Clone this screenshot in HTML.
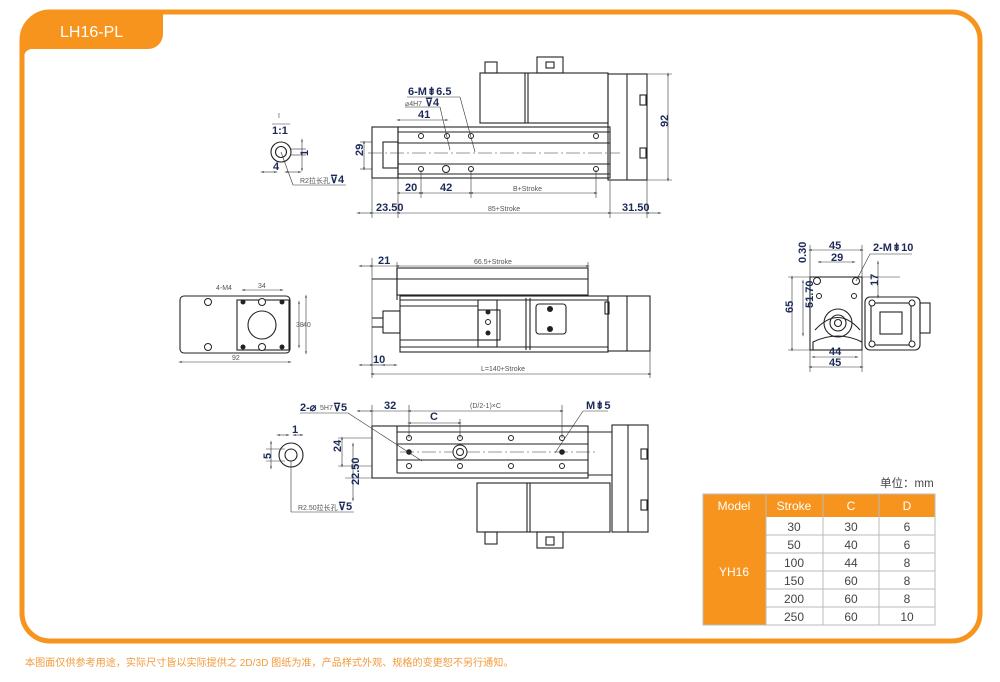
<!DOCTYPE html>
<html><head><meta charset="utf-8"><style>
html,body{margin:0;padding:0;background:#fff;}
body{width:1000px;height:682px;position:relative;overflow:hidden;font-family:"Liberation Sans","Noto Sans CJK SC",sans-serif;}
svg{position:absolute;left:0;top:0;}
.l{stroke:#222;stroke-width:1.1;fill:none;}
.t{stroke:#333;stroke-width:.6;fill:none;}
.d{stroke:#333;stroke-width:.6;fill:none;marker-start:url(#a);marker-end:url(#a);}
.n{font-family:"Liberation Sans",sans-serif;font-size:11px;fill:#1c2a5a;font-weight:bold;}
.s{font-family:"Liberation Sans",sans-serif;font-size:7px;fill:#555;}
.h{fill:#fff;stroke:#222;stroke-width:1;}
</style></head><body>
<svg width="1000" height="682" viewBox="0 0 1000 682">
<defs><marker id="a" viewBox="0 0 10 10" refX="5" refY="5" markerWidth="6" markerHeight="6" orient="auto-start-reverse"><path d="M0,3 L10,5 L0,7z" fill="#222"/></marker></defs>
<path d="M52,12 H952 A28,28 0 0 1 980,40 V613 A28,28 0 0 1 952,641 H50 A28,28 0 0 1 22,613 V40 A28,28 0 0 1 50,12Z" fill="none" stroke="#f7941d" stroke-width="5"/>
<path d="M22,40 A30,30 0 0 1 52,10 H168 A6,6 0 0 0 163,16 V34 A15,15 0 0 1 148,49 H32 A8,8 0 0 0 24,57 Z" fill="#f7941d"/>
<text x="60" y="37" font-size="16" fill="#fff" font-family="Liberation Sans,sans-serif">LH16-PL</text>
<text x="25" y="666" font-size="10.1" fill="#f39a3a" font-family="Liberation Sans,Noto Sans CJK SC,sans-serif">本图面仅供参考用途，实际尺寸皆以实际提供之 2D/3D 图纸为准，产品样式外观、规格的变更恕不另行通知。</text>

<!-- TOP VIEW -->
<rect class="l" x="480" y="73" width="128" height="50"/>
<line class="l" x1="525" y1="73" x2="525" y2="123"/><line class="l" x1="528" y1="73" x2="528" y2="123"/>
<rect class="l" x="485" y="62" width="12" height="11"/><rect class="l" x="537" y="57" width="26" height="16"/><rect class="l" x="546" y="62" width="8" height="6"/>
<rect class="l" x="608" y="74" width="39" height="106"/><line class="l" x1="627" y1="74" x2="627" y2="180"/>
<rect class="l" x="640" y="95" width="6" height="10"/><rect class="l" x="640" y="148" width="6" height="10"/>
<rect class="l" x="398" y="127" width="212" height="51"/>
<line class="l" x1="398" y1="132" x2="610" y2="132"/><line class="l" x1="398" y1="143" x2="610" y2="143"/><line class="l" x1="398" y1="164" x2="610" y2="164"/><line class="l" x1="398" y1="174" x2="610" y2="174"/>
<rect class="l" x="372" y="127" width="26" height="51"/><rect class="l" x="383" y="142" width="15" height="26"/>
<line class="t" x1="368" y1="153" x2="620" y2="153" stroke-dasharray="14,3,2,3"/>
<g class="h"><circle cx="421" cy="136" r="2.5"/><circle cx="447" cy="136" r="2.5"/><circle cx="471" cy="136" r="2.5"/><circle cx="596" cy="136" r="2.5"/><circle cx="421" cy="169" r="2.5"/><circle cx="471" cy="169" r="2.5"/><circle cx="596" cy="169" r="2.5"/><circle cx="446" cy="169" r="3.5"/></g>
<line class="t" x1="407" y1="97" x2="460" y2="97"/><line class="t" x1="460" y1="97" x2="475" y2="152"/>
<line class="t" x1="405" y1="107" x2="440" y2="107"/><line class="t" x1="440" y1="107" x2="450" y2="150"/>
<text class="n" x="408" y="95">6-M⇟6.5</text>
<text class="s" x="405" y="106">⌀4H7</text><text class="n" x="425" y="106" font-size="10">⊽4</text>
<line class="d" x1="398" y1="120" x2="447" y2="120"/><text class="n" x="418" y="118">41</text>
<line class="t" x1="360" y1="142" x2="372" y2="142"/><line class="t" x1="360" y1="169" x2="372" y2="169"/>
<line class="d" x1="364" y1="142" x2="364" y2="169"/><text class="n" x="360" y="159" transform="rotate(-90 360 156)">29</text>
<line class="d" x1="398" y1="193" x2="421" y2="193"/><line class="d" x1="421" y1="193" x2="471" y2="193"/><line class="d" x1="471" y1="193" x2="596" y2="193"/>
<text class="n" x="405" y="191">20</text><text class="n" x="440" y="191">42</text><text class="s" x="513" y="191">B+Stroke</text>
<line class="t" x1="398" y1="178" x2="398" y2="218"/><line class="t" x1="372" y1="178" x2="372" y2="218"/><line class="t" x1="610" y1="180" x2="610" y2="218"/><line class="t" x1="647" y1="180" x2="647" y2="218"/>
<line class="t" x1="421" y1="170" x2="421" y2="198"/><line class="t" x1="471" y1="170" x2="471" y2="198"/><line class="t" x1="596" y1="170" x2="596" y2="198"/>
<line class="d" x1="358" y1="213" x2="372" y2="213"/><line class="d" x1="398" y1="213" x2="610" y2="213"/><line class="d" x1="647" y1="213" x2="660" y2="213"/>
<line class="t" x1="372" y1="213" x2="398" y2="213"/><line class="t" x1="610" y1="213" x2="647" y2="213"/>
<text class="n" x="376" y="211">23.50</text><text class="s" x="488" y="211">85+Stroke</text><text class="n" x="622" y="211">31.50</text>
<line class="t" x1="647" y1="74" x2="672" y2="74"/><line class="t" x1="647" y1="180" x2="672" y2="180"/>
<line class="d" x1="668" y1="74" x2="668" y2="180"/><text class="n" x="664" y="131" transform="rotate(-90 664 127)">92</text>
<text class="s" x="278" y="118">I</text><line class="t" x1="272" y1="124" x2="290" y2="124"/><text class="n" x="272" y="134" font-size="10">1:1</text>
<circle class="l" cx="281" cy="152" r="10"/><circle class="l" cx="281" cy="152" r="5.5"/>
<line class="t" x1="290" y1="149" x2="306" y2="149"/><line class="t" x1="290" y1="155" x2="306" y2="155"/><line class="d" x1="302" y1="140" x2="302" y2="170"/>
<text class="n" x="296" y="160" font-size="10" transform="rotate(-90 300 152)">1</text>
<line class="d" x1="262" y1="172" x2="276" y2="172"/><line class="d" x1="286" y1="172" x2="300" y2="172"/><text class="n" x="273" y="170" font-size="10">4</text>
<line class="t" x1="281" y1="152" x2="293" y2="185"/><line class="t" x1="293" y1="185" x2="346" y2="185"/>
<text class="s" x="300" y="183">R2拉长孔</text><text class="n" x="330" y="183" font-size="10">⊽4</text>

<!-- SIDE VIEW -->
<rect class="l" x="397" y="268" width="191" height="27"/><line class="l" x1="397" y1="279" x2="588" y2="279"/>
<line class="l" x1="372" y1="279" x2="397" y2="279"/><line class="l" x1="397" y1="268" x2="397" y2="300"/>
<rect class="l" x="400" y="296" width="208" height="56"/>
<line class="l" x1="400" y1="300" x2="608" y2="300"/><line class="l" x1="400" y1="306" x2="478" y2="306"/><line class="l" x1="400" y1="340" x2="478" y2="340"/><line class="l" x1="400" y1="347" x2="608" y2="347"/>
<rect class="l" x="608" y="296" width="42" height="55"/><line class="l" x1="627" y1="296" x2="627" y2="351"/>
<rect class="l" x="383" y="311" width="17" height="22"/><line class="l" x1="372" y1="318" x2="383" y2="318"/><line class="l" x1="372" y1="327" x2="383" y2="327"/>
<rect class="l" x="478" y="300" width="19" height="47"/><rect class="l" x="478" y="310" width="22" height="30"/>
<circle cx="488" cy="312" r="2.5" fill="#222"/><circle class="h" cx="488" cy="322" r="2.5"/><circle cx="488" cy="333" r="2.5" fill="#222"/>
<line class="l" x1="526" y1="298" x2="526" y2="350"/><line class="l" x1="530" y1="298" x2="530" y2="350"/>
<rect class="l" x="536" y="304" width="30" height="30" rx="3"/>
<circle cx="550" cy="309" r="3" fill="#222"/><circle cx="550" cy="329" r="3" fill="#222"/>
<rect class="l" x="605" y="302" width="4" height="12"/>
<line class="t" x1="372" y1="258" x2="372" y2="378"/>
<line class="d" x1="360" y1="266" x2="372" y2="266"/><line class="d" x1="397" y1="266" x2="588" y2="266"/><line class="t" x1="372" y1="266" x2="397" y2="266"/>
<line class="t" x1="397" y1="262" x2="397" y2="268"/><line class="t" x1="588" y1="262" x2="588" y2="268"/>
<text class="n" x="378" y="264">21</text><text class="s" x="474" y="264">66.5+Stroke</text>
<line class="d" x1="360" y1="365" x2="372" y2="365"/><line class="d" x1="383" y1="365" x2="396" y2="365"/><line class="t" x1="372" y1="365" x2="383" y2="365"/>
<text class="n" x="373" y="363">10</text>
<line class="t" x1="650" y1="351" x2="650" y2="378"/>
<line class="d" x1="372" y1="374" x2="650" y2="374"/><text class="s" x="481" y="371">L=140+Stroke</text>

<!-- LEFT END VIEW -->
<rect class="l" x="180" y="296" width="110" height="57" rx="4"/>
<rect class="l" x="237" y="300" width="52" height="50"/>
<circle class="l" cx="262" cy="325" r="14"/>
<g class="h"><circle cx="208" cy="302" r="3.5"/><circle cx="208" cy="347" r="3.5"/><circle cx="262" cy="302" r="3.5"/><circle cx="262" cy="347" r="3.5"/></g>
<circle cx="243" cy="302" r="2.5" fill="#222"/><circle cx="282" cy="302" r="2.5" fill="#222"/><circle cx="243" cy="347" r="2.5" fill="#222"/><circle cx="282" cy="347" r="2.5" fill="#222"/>
<line class="d" x1="243" y1="290" x2="282" y2="290"/><text class="s" x="258" y="288">34</text>
<text class="s" x="216" y="290" fill="#1c2a5a">4-M4</text>
<line class="d" x1="299" y1="302" x2="299" y2="347"/><line class="d" x1="306" y1="296" x2="306" y2="353"/>
<text class="s" x="296" y="327">38</text><text class="s" x="303" y="327">40</text>
<line class="d" x1="180" y1="362" x2="290" y2="362"/><text class="s" x="232" y="360">92</text>

<!-- RIGHT END VIEW -->
<rect class="l" x="810" y="277" width="52" height="73"/>
<path class="l" d="M813,350 V342 Q838,330 862,342"/><path class="l" d="M815,330 Q838,305 860,330"/>
<circle class="l" cx="838" cy="323" r="14"/><circle class="l" cx="838" cy="323" r="8"/><circle class="l" cx="838" cy="323" r="3.5"/>
<circle class="h" cx="817" cy="281" r="3.5"/><circle class="h" cx="856" cy="281" r="3.5"/><circle class="h" cx="819" cy="296" r="2.5"/><circle class="h" cx="854" cy="296" r="2.5"/>
<rect class="l" x="865" y="297" width="55" height="53" rx="5"/><rect class="l" x="871" y="303" width="40" height="42"/><rect class="l" x="880" y="312" width="22" height="22"/>
<rect class="l" x="920" y="303" width="10" height="30"/>
<circle class="h" cx="872" cy="303" r="3"/><circle class="h" cx="912" cy="303" r="3"/><circle class="h" cx="872" cy="344" r="3"/><circle class="h" cx="912" cy="344" r="3"/>
<line class="t" x1="810" y1="245" x2="810" y2="277"/><line class="t" x1="862" y1="245" x2="862" y2="277"/>
<line class="d" x1="810" y1="250" x2="862" y2="250"/><text class="n" x="829" y="249">45</text>
<line class="d" x1="819" y1="262" x2="854" y2="262"/><text class="n" x="831" y="261">29</text>
<line class="t" x1="788" y1="277" x2="900" y2="277"/><line class="t" x1="788" y1="350" x2="810" y2="350"/>
<line class="d" x1="792" y1="277" x2="792" y2="350"/><text class="n" x="788" y="318" transform="rotate(-90 788 313)">65</text>
<line class="d" x1="803" y1="281" x2="803" y2="335"/><text class="n" x="799" y="322" transform="rotate(-90 799 308)">51.70</text>
<text class="n" x="799" y="270" font-size="10" transform="rotate(-90 799 263)">0.30</text>
<line class="d" x1="878" y1="262" x2="878" y2="297"/><text class="n" x="874" y="290" transform="rotate(-90 874 286)">17</text>
<line class="t" x1="856" y1="281" x2="870" y2="254"/><line class="t" x1="870" y1="254" x2="912" y2="254"/><text class="n" x="873" y="251">2-M⇟10</text>
<line class="d" x1="813" y1="357" x2="857" y2="357"/><text class="n" x="829" y="355">44</text>
<line class="d" x1="810" y1="367" x2="862" y2="367"/><text class="n" x="829" y="366">45</text>
<line class="t" x1="810" y1="350" x2="810" y2="372"/><line class="t" x1="862" y1="350" x2="862" y2="372"/>

<!-- BOTTOM VIEW -->
<rect class="l" x="372" y="426" width="216" height="52"/>
<line class="l" x1="397" y1="426" x2="397" y2="473"/><line class="l" x1="397" y1="432" x2="588" y2="432"/><line class="l" x1="397" y1="444" x2="588" y2="444"/><line class="l" x1="397" y1="460" x2="588" y2="460"/><line class="l" x1="397" y1="473" x2="588" y2="473"/>
<line class="l" x1="588" y1="432" x2="612" y2="432"/><line class="l" x1="588" y1="475" x2="612" y2="475"/>
<rect class="l" x="612" y="425" width="36" height="107"/><line class="l" x1="628" y1="425" x2="628" y2="532"/>
<rect class="l" x="641" y="449" width="6" height="10"/><rect class="l" x="641" y="500" width="6" height="10"/>
<rect class="l" x="477" y="483" width="133" height="49"/><line class="l" x1="527" y1="483" x2="527" y2="532"/><line class="l" x1="530" y1="483" x2="530" y2="532"/>
<rect class="l" x="485" y="532" width="12" height="12"/><rect class="l" x="537" y="532" width="26" height="16"/><rect class="l" x="546" y="537" width="8" height="8"/>
<line class="t" x1="400" y1="452" x2="595" y2="452" stroke-dasharray="14,3,2,3"/>
<g class="h"><circle cx="409" cy="438" r="2.5"/><circle cx="460" cy="438" r="2.5"/><circle cx="511" cy="438" r="2.5"/><circle cx="562" cy="438" r="2.5"/><circle cx="409" cy="466" r="2.5"/><circle cx="460" cy="466" r="2.5"/><circle cx="511" cy="466" r="2.5"/><circle cx="562" cy="466" r="2.5"/><circle cx="460" cy="452" r="7"/><circle cx="460" cy="452" r="3.5"/></g>
<circle cx="409" cy="452" r="2.8" fill="#222"/><circle cx="562" cy="452" r="2.8" fill="#222"/>
<line class="t" x1="372" y1="405" x2="372" y2="426"/><line class="t" x1="409" y1="405" x2="409" y2="438"/><line class="t" x1="562" y1="405" x2="562" y2="438"/><line class="t" x1="460" y1="419" x2="460" y2="438"/>
<line class="d" x1="358" y1="411" x2="372" y2="411"/><line class="t" x1="372" y1="411" x2="409" y2="411"/><line class="d" x1="409" y1="411" x2="562" y2="411"/>
<text class="n" x="384" y="409">32</text><text class="s" x="470" y="408">(D/2-1)×C</text>
<line class="d" x1="409" y1="423" x2="460" y2="423"/><text class="n" x="430" y="420">C</text>
<line class="t" x1="300" y1="413" x2="348" y2="413"/><line class="t" x1="348" y1="413" x2="422" y2="461"/>
<text class="n" x="300" y="411">2-⌀</text><text class="s" x="320" y="410">5H7</text><text class="n" x="333" y="411" font-size="10">⊽5</text>
<line class="t" x1="583" y1="411" x2="608" y2="411"/><line class="t" x1="583" y1="411" x2="555" y2="453"/><text class="n" x="586" y="409">M⇟5</text>
<line class="t" x1="338" y1="438" x2="372" y2="438"/><line class="t" x1="338" y1="466" x2="372" y2="466"/><line class="t" x1="345" y1="478" x2="372" y2="478"/>
<line class="d" x1="342" y1="438" x2="342" y2="466"/><text class="n" x="338" y="455" transform="rotate(-90 338 452)">24</text>
<line class="d" x1="353" y1="444" x2="353" y2="500"/><text class="n" x="349" y="495" transform="rotate(-90 349 485)">22.50</text>
<circle class="l" cx="291" cy="455" r="12"/><circle class="l" cx="291" cy="455" r="6"/>
<line class="d" x1="278" y1="435" x2="288" y2="435"/><line class="d" x1="294" y1="435" x2="302" y2="435"/><text class="n" x="292" y="433" font-size="10">1</text>
<line class="t" x1="266" y1="449" x2="285" y2="449"/><line class="t" x1="266" y1="461" x2="285" y2="461"/><line class="d" x1="271" y1="442" x2="271" y2="468"/>
<text class="n" x="263" y="459" font-size="10" transform="rotate(-90 267 455)">5</text>
<line class="t" x1="291" y1="461" x2="291" y2="512"/><line class="t" x1="291" y1="512" x2="354" y2="512"/>
<text class="s" x="298" y="510">R2.50拉长孔</text><text class="n" x="338" y="510" font-size="10">⊽5</text>

<!-- TABLE -->
<text x="880" y="487" font-size="11.5" fill="#444" font-family="Liberation Sans,Noto Sans CJK SC,sans-serif">单位：mm</text>
<rect x="703" y="494" width="232" height="23" fill="#f7941d"/>
<rect x="703" y="517" width="63" height="108" fill="#f7941d"/>
<g stroke="#bbb" stroke-width="1" fill="none">
<rect x="703" y="494" width="232" height="131"/>
<line x1="766" y1="494" x2="766" y2="625"/><line x1="823" y1="494" x2="823" y2="625"/><line x1="879" y1="494" x2="879" y2="625"/>
<line x1="766" y1="535" x2="935" y2="535"/><line x1="766" y1="553" x2="935" y2="553"/><line x1="766" y1="571" x2="935" y2="571"/><line x1="766" y1="589" x2="935" y2="589"/><line x1="766" y1="607" x2="935" y2="607"/>
</g>
<g font-family="Liberation Sans,sans-serif" font-size="12" text-anchor="middle">
<g fill="#fff"><text x="734" y="510">Model</text><text x="794" y="510">Stroke</text><text x="851" y="510">C</text><text x="907" y="510">D</text><text x="734" y="576">YH16</text></g>
<g fill="#444">
<text x="794" y="531">30</text><text x="851" y="531">30</text><text x="907" y="531">6</text>
<text x="794" y="549">50</text><text x="851" y="549">40</text><text x="907" y="549">6</text>
<text x="794" y="567">100</text><text x="851" y="567">44</text><text x="907" y="567">8</text>
<text x="794" y="585">150</text><text x="851" y="585">60</text><text x="907" y="585">8</text>
<text x="794" y="603">200</text><text x="851" y="603">60</text><text x="907" y="603">8</text>
<text x="794" y="621">250</text><text x="851" y="621">60</text><text x="907" y="621">10</text>
</g></g>
</svg>
</body></html>
